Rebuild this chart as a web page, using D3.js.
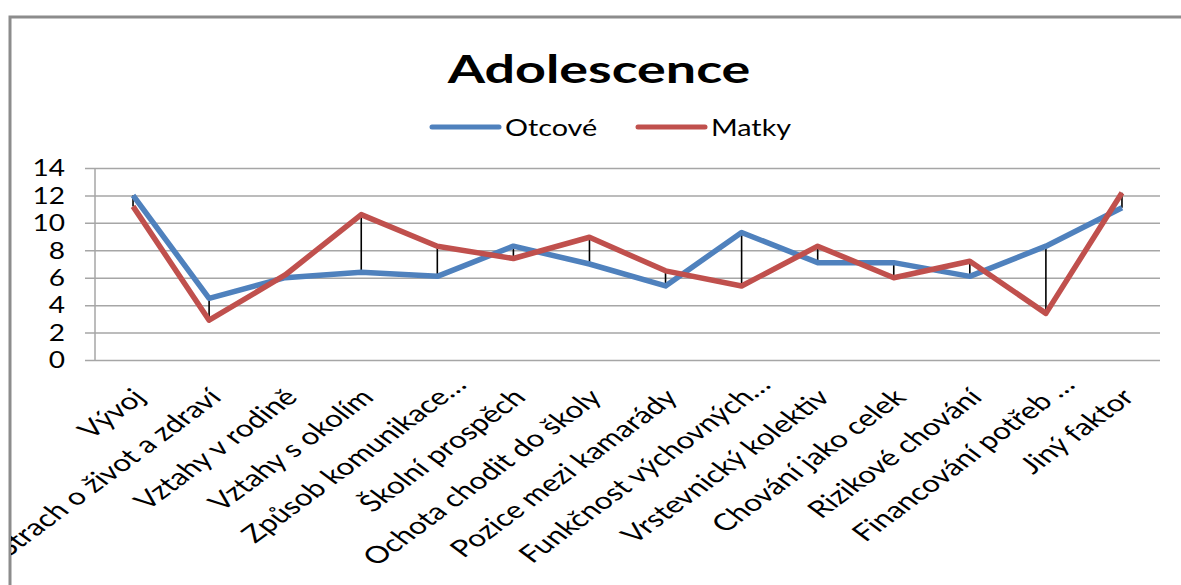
<!DOCTYPE html>
<html>
<head>
<meta charset="utf-8">
<script src="https://cdn.jsdelivr.net/npm/d3@7"></script>
<style>
  body { margin: 0; background: #fff; }
  text { font-family: Lato, "Open Sans", sans-serif; fill: #000; }
</style>
</head>
<body>
<svg id="chart" width="1181" height="585"></svg>
<script>
const categories = [
  "Vývoj", "Strach o život a zdraví", "Vztahy v rodině", "Vztahy s okolím",
  "Způsob komunikace…", "Školní prospěch", "Ochota chodit do školy",
  "Pozice mezi kamarády", "Funkčnost výchovných…", "Vrstevnický kolektiv",
  "Chování jako celek", "Rizikové chování", "Financování potřeb …", "Jiný faktor"
];
const otcove = [12.0, 4.5, 6.0, 6.4, 6.1, 8.3, 7.0, 5.4, 9.3, 7.1, 7.1, 6.1, 8.3, 11.1];
const matky = [11.2, 2.9, 6.2, 10.6, 8.3, 7.4, 8.95, 6.5, 5.4, 8.3, 6.0, 7.2, 3.4, 12.2];
const yTicks = [0, 2, 4, 6, 8, 10, 12, 14];
const seriesNames = ["Otcové", "Matky"];
const colors = ["#4f81bd", "#c0504d"];

// the picture looks stretched sideways, so text is widened a bit
const sx = 1.22;
const sxLab = 1.35;
const plot = {left: 95, right: 1160, top: 168, bottom: 360};

const svg = d3.select('#chart');

// chart area border (only top and left edge visible)
svg.append('path')
  .attr('d', 'M10,585V17H1181')
  .attr('fill', 'none')
  .attr('stroke', '#8c8c8c')
  .attr('stroke-width', 3);

const x = d3.scaleBand().domain(categories).range([plot.left, plot.right]);
const cx = d => x(d) + x.bandwidth() / 2;
const y = d3.scaleLinear().domain([0, 14]).range([plot.bottom, plot.top]);

// gridlines, starting 10px left of the axis (acts as tick marks)
const grid = svg.append('g')
  .attr('transform', 'translate(' + (plot.left - 10) + ',0)')
  .call(d3.axisRight(y).tickValues(yTicks).tickSize(plot.right - plot.left + 10).tickFormat(''));
grid.select('.domain').remove();
grid.selectAll('.tick line').attr('stroke', '#a6a6a6').attr('stroke-width', 1.5);

// vertical axis line
svg.append('line')
  .attr('x1', plot.left).attr('x2', plot.left)
  .attr('y1', y(14)).attr('y2', y(0))
  .attr('stroke', '#a6a6a6').attr('stroke-width', 1.5);

// y tick labels
svg.append('g').selectAll('text')
  .data(yTicks)
  .join('text')
  .attr('transform', d => 'translate(65,' + y(d) + ') scale(' + sx + ',1)')
  .attr('dy', '0.36em')
  .attr('text-anchor', 'end')
  .style('font-size', '23px')
  .text(d => d);

// hi-lo lines
svg.append('g').selectAll('line')
  .data(categories)
  .join('line')
  .attr('x1', d => cx(d)).attr('x2', d => cx(d))
  .attr('y1', (d, i) => y(otcove[i]))
  .attr('y2', (d, i) => y(matky[i]))
  .attr('stroke', '#000')
  .attr('stroke-width', 1.6);

const line = d3.line()
  .x((d, i) => cx(categories[i]))
  .y(d => y(d));

[otcove, matky].forEach(function (vals, k) {
  svg.append('path')
    .datum(vals)
    .attr('fill', 'none')
    .attr('stroke', colors[k])
    .attr('stroke-width', 5.5)
    .attr('stroke-linejoin', 'round')
    .attr('d', line);
});

// category labels, clipped by the chart border like in the original
svg.append('clipPath').attr('id', 'clip')
  .append('rect').attr('x', 11).attr('y', 0).attr('width', 1170).attr('height', 585);

const labels = svg.append('g').attr('clip-path', 'url(#clip)');
const ell = labels.append('text').style('font-size', '23.5px').text('…');
const ellW = ell.node().getComputedTextLength();
ell.remove();

labels.selectAll('text')
  .data(categories)
  .join('text')
  .attr('transform', d => 'translate(' + (cx(d) + 6) + ',393) scale(' + sxLab + ',1) rotate(-45)')
  .attr('x', d => d.endsWith('…') ? ellW : 0)
  .attr('dy', '0.35em')
  .attr('text-anchor', 'end')
  .style('font-size', '23.5px')
  .text(d => d);

// title
svg.append('text')
  .attr('transform', 'translate(599,83) scale(1.38,1)')
  .attr('text-anchor', 'middle')
  .style('font-size', '39px')
  .style('font-weight', 'bold')
  .text('Adolescence');

// legend
const legendX = [432, 638];
const legend = svg.append('g');
seriesNames.forEach(function (name, k) {
  legend.append('line')
    .attr('x1', legendX[k]).attr('x2', legendX[k] + 67)
    .attr('y1', 127).attr('y2', 127)
    .attr('stroke', colors[k])
    .attr('stroke-width', 5)
    .attr('stroke-linecap', 'round');
  legend.append('text')
    .attr('transform', 'translate(' + (legendX[k] + 73) + ',136) scale(' + (sx + 0.03) + ',1)')
    .style('font-size', '23px')
    .text(name);
});
</script>
</body>
</html>
